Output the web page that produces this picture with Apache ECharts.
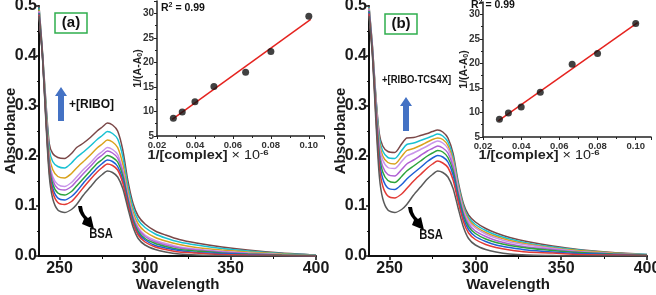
<!DOCTYPE html>
<html lang="en">
<head>
  <meta charset="UTF-8">
  <title>BSA absorbance</title>
  <script src="https://cdn.jsdelivr.net/npm/echarts@6/dist/echarts.min.js"></script>
  <style>
    * { margin: 0; padding: 0; }
    #main { width: 656px; height: 295px; background: #fff; }
  </style>
</head>
<body>
  <div id="main"></div>
  <script>
    // wavelength grid shared by all spectra
    var wl = [238,240,242,244,246,249,253,257,260,264,268,272,275,278,281,284,287,290,293,296,300,306,312,320,330,345,360,380,400];

    // panel (a): BSA + [RIBO], bottom curve to top curve
    var a0 = [.48,.40,.27,.16,.115,.092,.087,.093,.103,.122,.138,.154,.163,.170,.167,.158,.135,.095,.058,.035,.022,.013,.008,.004,.002,.001,0,0,0];
    var a1 = [.483,.401,.276,.170,.128,.107,.103,.109,.120,.137,.153,.168,.177,.184,.181,.172,.146,.103,.065,.042,.028,.018,.013,.008,.006,.003,.002,.001,0];
    var a2 = [.485,.402,.279,.175,.136,.116,.112,.119,.129,.146,.161,.176,.185,.192,.189,.179,.153,.108,.069,.045,.032,.021,.016,.011,.007,.005,.003,.001,0];
    var a3 = [.486,.403,.283,.181,.144,.126,.122,.129,.140,.155,.170,.185,.193,.201,.197,.188,.160,.113,.073,.049,.035,.025,.019,.013,.010,.006,.004,.002,.001];
    var a4 = [.488,.404,.287,.187,.152,.135,.132,.139,.150,.165,.179,.194,.202,.210,.206,.196,.167,.118,.077,.054,.039,.028,.022,.016,.012,.008,.005,.002,.001];
    var a5 = [.490,.405,.289,.192,.159,.143,.139,.147,.158,.173,.186,.201,.209,.217,.213,.203,.172,.122,.081,.057,.042,.031,.025,.018,.014,.009,.006,.003,.001];
    var a6 = [.493,.406,.296,.202,.173,.159,.156,.165,.176,.189,.202,.216,.224,.232,.228,.217,.184,.130,.088,.064,.049,.037,.030,.023,.017,.012,.008,.004,.001];
    var a7 = [.497,.408,.303,.214,.189,.179,.176,.186,.197,.208,.220,.233,.241,.249,.245,.234,.199,.140,.097,.072,.057,.044,.036,.028,.022,.015,.010,.005,.002];
    var a8 = [.50,.41,.31,.225,.205,.197,.195,.205,.217,.226,.237,.25,.258,.266,.262,.25,.212,.15,.105,.08,.064,.05,.042,.033,.026,.018,.012,.006,.002];

    // panel (b): BSA + [RIBO-TCS4X]
    var b0 = [.48,.40,.27,.16,.115,.092,.087,.093,.103,.122,.138,.154,.163,.170,.167,.158,.135,.095,.058,.035,.022,.013,.008,.004,.002,.001,0,0,0];
    var b1 = [.485,.405,.282,.180,.140,.120,.116,.124,.135,.150,.163,.176,.184,.190,.186,.177,.152,.108,.069,.046,.033,.023,.017,.012,.008,.006,.003,.002,.001];
    var b2 = [.488,.408,.289,.192,.155,.136,.133,.143,.154,.166,.177,.189,.196,.201,.198,.188,.162,.115,.076,.053,.039,.029,.022,.017,.012,.008,.005,.003,.001];
    var b3 = [.49,.41,.295,.203,.168,.151,.147,.159,.170,.180,.190,.200,.206,.211,.208,.197,.170,.122,.082,.059,.045,.034,.027,.021,.016,.011,.007,.004,.002];
    var b4 = [.492,.412,.301,.212,.179,.163,.160,.173,.184,.192,.201,.210,.215,.220,.216,.206,.178,.127,.087,.064,.050,.039,.031,.024,.018,.013,.008,.004,.002];
    var b5 = [.495,.415,.307,.222,.192,.177,.175,.189,.200,.206,.213,.220,.226,.230,.226,.215,.186,.134,.092,.069,.056,.044,.036,.028,.022,.015,.009,.005,.002];
    var b6 = [.496,.416,.311,.229,.200,.187,.184,.199,.211,.215,.221,.228,.233,.236,.233,.221,.192,.138,.096,.073,.059,.047,.039,.031,.024,.016,.011,.006,.002];
    var b7 = [.498,.418,.315,.237,.210,.197,.195,.211,.223,.226,.231,.236,.240,.244,.240,.228,.198,.143,.100,.077,.063,.051,.042,.034,.026,.018,.012,.006,.003];
    var b8 = [.50,.42,.32,.245,.22,.209,.207,.224,.236,.237,.241,.245,.249,.252,.248,.236,.205,.148,.105,.082,.068,.055,.046,.037,.029,.020,.013,.007,.003];

    var curveColors = ['#5a5a5a','#e23b36','#1f5fd6','#2ca33a','#b060d4','#c995ea','#d9a21c','#19c1d2','#7b4848'];

    // insets: double reciprocal plots
    var invConc = [0.0286, 0.0333, 0.04, 0.05, 0.0667, 0.08, 0.1];
    var invA_a = [8.6, 9.9, 12.0, 15.1, 18.0, 22.2, 29.4];
    var invA_b = [8.6, 9.9, 11.1, 14.1, 19.8, 22.0, 28.1];
    var fitRange = [0.028, 0.101];

    var xLabels = [250, 300, 350, 400];
    var xMinor = [275, 325, 375];

    var FONT = 'Liberation Sans, Arial, sans-serif';

    function zip(xs, ys) {
      return xs.map(function (x, i) { return [x, ys[i]]; });
    }

    // least squares line through the inset points
    function fitLine(xs, ys) {
      var n = xs.length, mx = 0, my = 0;
      xs.forEach(function (x, i) { mx += x / n; my += ys[i] / n; });
      var sxy = 0, sxx = 0;
      xs.forEach(function (x, i) { sxy += (x - mx) * (ys[i] - my); sxx += (x - mx) * (x - mx); });
      var k = sxy / sxx, b = my - k * mx;
      return fitRange.map(function (x) { return [x, k * x + b]; });
    }

    var grids = [
      { left: 39, top: 6, width: 277, height: 250 },
      { left: 369, top: 6, width: 278, height: 250 },
      { left: 157, top: 1, width: 167, height: 135 },
      { left: 483, top: 2, width: 168, height: 135 }
    ];
    grids.forEach(function (g) { g.outerBoundsMode = 'none'; g.containLabel = false; });

    var xAxes = [], yAxes = [];
    [0, 1].forEach(function (gi) {
      xAxes.push({
        gridIndex: gi, type: 'value', min: 238, max: 400,
        axisLine: { lineStyle: { color: '#111', width: 2 } },
        axisTick: { customValues: xLabels, length: 4, lineStyle: { color: '#111', width: 1.5 } },
        axisLabel: { customValues: xLabels, fontSize: 16, fontWeight: 'bold', color: '#1a1a1a', margin: 5, fontFamily: FONT },
        splitLine: { show: false },
        name: 'Wavelength', nameLocation: 'middle', nameGap: 21, nameMoveOverlap: false,
        nameTextStyle: { fontSize: 15, fontWeight: 'bold', color: '#1a1a1a', fontFamily: FONT }
      });
      yAxes.push({
        gridIndex: gi, type: 'value', min: 0, max: 0.5, interval: 0.1,
        axisLine: { show: true, lineStyle: { color: '#111', width: 2 } },
        axisTick: { show: true, length: 3, lineStyle: { color: '#111', width: 1.5 } },
        minorTick: { show: true, splitNumber: 2, length: 2, lineStyle: { color: '#111', width: 1 } },
        axisLabel: { fontSize: 16, fontWeight: 'bold', color: '#1a1a1a', margin: 2, fontFamily: FONT,
          formatter: function (v) { return v.toFixed(1); } },
        splitLine: { show: false },
        name: 'Absorbance', nameLocation: 'middle', nameGap: 21, nameRotate: 90, nameMoveOverlap: false,
        nameTextStyle: { fontSize: 15, fontWeight: 'bold', color: '#1a1a1a', fontFamily: FONT }
      });
    });
    // minor ticks on the wavelength axes
    [0, 1].forEach(function (gi) {
      xAxes.push({
        gridIndex: gi, type: 'value', min: 238, max: 400, position: 'bottom',
        axisLine: { show: false },
        axisTick: { customValues: xMinor, length: 3, lineStyle: { color: '#111', width: 1 } },
        axisLabel: { show: false }, splitLine: { show: false }
      });
    });
    // inset axes
    [2, 3].forEach(function (gi) {
      xAxes.push({
        gridIndex: gi, type: 'value', min: 0.02, max: 0.108, interval: 0.02,
        axisLine: { lineStyle: { color: '#222', width: 1.5 } },
        axisTick: { length: 3, lineStyle: { color: '#222' } },
        minorTick: { show: true, splitNumber: 2, length: 2, lineStyle: { color: '#222' } },
        axisLabel: { fontSize: 9.5, fontWeight: 'bold', color: '#333', margin: 4, fontFamily: FONT,
          formatter: function (v) { return v.toFixed(2); } },
        splitLine: { show: false }
      });
      yAxes.push({
        gridIndex: gi, type: 'value', min: 5, max: 32.5, interval: 5,
        axisLine: { show: true, lineStyle: { color: '#222', width: 1.5 } },
        axisTick: { show: true, length: 3, lineStyle: { color: '#222' } },
        minorTick: { show: true, splitNumber: 2, length: 2, lineStyle: { color: '#222' } },
        axisLabel: { fontSize: 10, fontWeight: 'bold', color: '#333', margin: 3, fontFamily: FONT,
          showMaxLabel: false },
        splitLine: { show: false },
        name: '{t|1/(A-A}{s|0}{t|)}', nameLocation: 'middle', nameGap: 13, nameRotate: 90, nameMoveOverlap: false,
        nameTextStyle: {
          rich: {
            t: { fontSize: 10.5, fontWeight: 'bold', color: '#222', fontFamily: FONT },
            s: { fontSize: 7, fontWeight: 'bold', color: '#222', fontFamily: FONT, verticalAlign: 'bottom', padding: [4, 0, 0, 0] }
          }
        }
      });
    });

    var series = [];
    [a0, a1, a2, a3, a4, a5, a6, a7, a8].forEach(function (arr, i) {
      series.push({ type: 'line', xAxisIndex: 0, yAxisIndex: 0, data: zip(wl, arr), smooth: 0.25,
        showSymbol: false, lineStyle: { color: curveColors[i], width: 1.5 }, z: 2 + (8 - i) });
    });
    [b0, b1, b2, b3, b4, b5, b6, b7, b8].forEach(function (arr, i) {
      series.push({ type: 'line', xAxisIndex: 1, yAxisIndex: 1, data: zip(wl, arr), smooth: 0.25,
        showSymbol: false, lineStyle: { color: curveColors[i], width: 1.5 }, z: 2 + (8 - i) });
    });
    [[invA_a, 4, 2], [invA_b, 5, 3]].forEach(function (s) {
      series.push({ type: 'line', xAxisIndex: s[1], yAxisIndex: s[2], data: fitLine(invConc, s[0]),
        showSymbol: false, lineStyle: { color: '#e5231f', width: 1.5 }, z: 20 });
      series.push({ type: 'scatter', xAxisIndex: s[1], yAxisIndex: s[2], data: zip(invConc, s[0]),
        symbolSize: 7, itemStyle: { color: '#111' }, z: 21 });
    });

    var richInset = {
      b: { fontSize: 12, fontWeight: 'bold', fill: '#222', fontFamily: FONT },
      n: { fontSize: 12, fill: '#222', fontFamily: FONT },
      sup: { fontSize: 8, fontWeight: 'bold', fill: '#222', fontFamily: FONT, verticalAlign: 'top', padding: [0, 0, 6, 0] }
    };
    var richR2 = {
      b: { fontSize: 10.5, fontWeight: 'bold', fill: '#111', fontFamily: FONT },
      sup: { fontSize: 7, fontWeight: 'bold', fill: '#111', fontFamily: FONT, verticalAlign: 'top', padding: [0, 0, 5, 0] }
    };

    // thick curved arrow pointing at the BSA curve (panel a coordinates)
    var bsaArrow = [[78,206],[79,211],[81,215],[84,219],[82,224],[94,229],[91,216],[88,218],[85,215],[83,211],[82,206]];

    function panelDecor(dx, dy, tag, label, arrowX, arrowY, labelX, labelY, labelFont, labelScale, xNameX, r2x, r2y) {
      var els = [];
      // tag box
      els.push({ type: 'rect', shape: { x: 55 + dx, y: 13 + dy, width: 32, height: 20 },
        style: { fill: 'none', stroke: '#2fae4e', lineWidth: 1.5 } });
      els.push({ type: 'text', x: 71 + dx, y: 23 + dy, style: { text: tag, font: 'bold 15px ' + FONT,
        fill: '#111', align: 'center', verticalAlign: 'middle' } });
      // blue arrow
      els.push({ type: 'polygon', shape: { points: [
        [arrowX - 6, arrowY + 9], [arrowX, arrowY], [arrowX + 6, arrowY + 9],
        [arrowX + 3, arrowY + 9], [arrowX + 3, arrowY + 34], [arrowX - 3, arrowY + 34], [arrowX - 3, arrowY + 9]
      ] }, style: { fill: '#4472c4' } });
      els.push({ type: 'text', x: labelX, y: labelY, scaleX: labelScale, style: { text: label, font: labelFont,
        fill: '#111', verticalAlign: 'middle' } });
      els.push({ type: 'polygon', x: dx, y: dy, shape: { points: bsaArrow }, style: { fill: '#000' } });
      els.push({ type: 'text', x: 101 + dx, y: 234 + dy, scaleX: 0.8, style: { text: 'BSA', font: 'bold 14px ' + FONT,
        fill: '#111', align: 'center', verticalAlign: 'middle' } });
      // inset texts
      els.push({ type: 'text', x: r2x, y: r2y, style: { text: '{b|R}{sup|2}{b| = 0.99}', rich: richR2,
        verticalAlign: 'middle' } });
      els.push({ type: 'text', x: xNameX, y: 156, scaleX: 1.2, style: { text: '{b|1/[complex] }{n|× 10}{sup|-6}', rich: richInset,
        align: 'center', verticalAlign: 'middle' } });
      return els;
    }

    var graphics = []
      .concat(panelDecor(0, 0, '(a)', '+[RIBO]', 61, 87, 69, 105, 'bold 12px ' + FONT, 1, 208, 161, 8))
      .concat(panelDecor(330, 1, '(b)', '+[RIBO-TCS4X]', 406, 97, 382, 80, 'bold 11px ' + FONT, 0.86, 539, 471, 5));

    var myChart = echarts.init(document.getElementById('main'));
    myChart.setOption({
      animation: false,
      textStyle: { fontFamily: FONT },
      grid: grids,
      xAxis: xAxes,
      yAxis: yAxes,
      series: series,
      graphic: graphics
    });
  </script>
</body>
</html>
